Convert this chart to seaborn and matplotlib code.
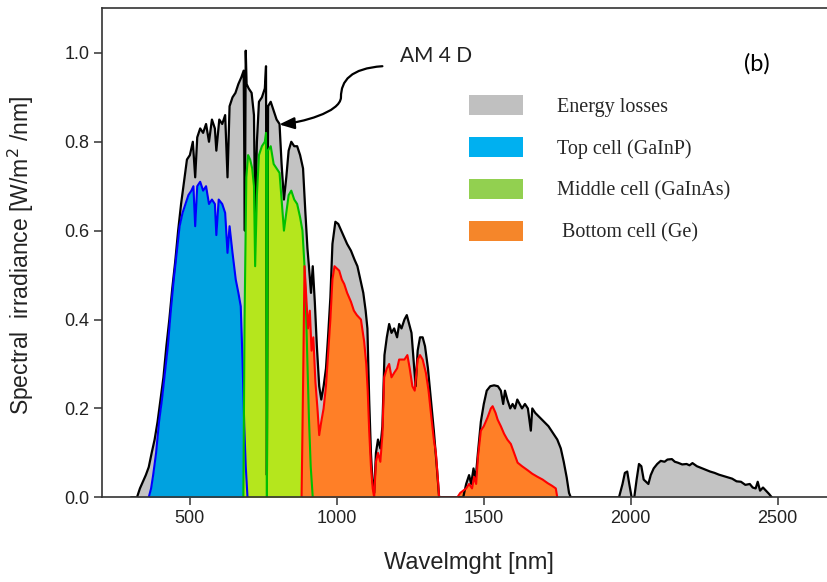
import numpy as np
import pandas as pd
import matplotlib
matplotlib.use("Agg")
import matplotlib.pyplot as plt
import seaborn as sns
from matplotlib.patches import Patch, FancyArrowPatch
from matplotlib.path import Path

# ==========================
# Data
# ==========================
# full spectrum (black outline, grey = energy losses)
wl_total = [300, 320, 330, 340, 350, 360, 370, 380, 390, 400, 410, 420, 430, 440, 450,
            460, 470, 480, 490, 500, 510, 518, 525, 535, 545, 555, 565, 575, 585, 590,
            600, 610, 620, 628, 635, 645, 655, 665, 675, 683, 687, 690, 693, 700, 710,
            718, 722, 728, 735, 745, 755, 759, 762, 766, 775, 785, 795, 805, 812, 820,
            828, 836, 845, 855, 865, 875, 885, 893, 900, 905, 912, 918, 925, 932, 940,
            947, 955, 963, 970, 978, 985, 995, 1005, 1015, 1025, 1035, 1048, 1060, 1070, 1080,
            1090, 1098, 1104, 1110, 1116, 1121, 1127, 1133, 1140, 1148, 1155, 1162, 1170, 1178, 1186,
            1195, 1205, 1212, 1220, 1230, 1238, 1246, 1254, 1262, 1268, 1275, 1283, 1292, 1300, 1310,
            1320, 1330, 1340, 1348, 1430, 1440, 1450, 1457, 1465, 1472, 1480, 1490, 1500, 1510, 1522,
            1535, 1548, 1558, 1566, 1572, 1580, 1590, 1598, 1606, 1614, 1622, 1630, 1640, 1650, 1660,
            1665, 1675, 1690, 1705, 1720, 1735, 1750, 1762, 1772, 1782, 1790, 1796, 1960, 1972, 1980,
            1988, 1995, 2003, 2012, 2020, 2028, 2036, 2044, 2052, 2060, 2068, 2078, 2090, 2102, 2115,
            2125, 2140, 2150, 2160, 2175, 2190, 2200, 2210, 2225, 2240, 2255, 2270, 2285, 2300, 2315,
            2330, 2345, 2360, 2375, 2390, 2405, 2415, 2425, 2432, 2440, 2450, 2460, 2470, 2480]
irr_total = [0.0, 0.0, 0.02, 0.035, 0.05, 0.068, 0.10, 0.13, 0.17, 0.22, 0.27, 0.34, 0.40, 0.47, 0.53,
             0.60, 0.66, 0.71, 0.76, 0.77, 0.80, 0.72, 0.81, 0.83, 0.82, 0.84, 0.80, 0.85, 0.83, 0.78,
             0.85, 0.84, 0.86, 0.72, 0.88, 0.90, 0.91, 0.93, 0.945, 0.96, 0.60, 1.005, 0.93, 0.92, 0.91,
             0.86, 0.63, 0.80, 0.89, 0.90, 0.92, 0.97, 0.05, 0.88, 0.89, 0.87, 0.85, 0.84, 0.75, 0.67,
             0.72, 0.78, 0.80, 0.79, 0.79, 0.77, 0.74, 0.64, 0.56, 0.52, 0.46, 0.52, 0.44, 0.34, 0.25,
             0.22, 0.25, 0.29, 0.36, 0.45, 0.57, 0.62, 0.615, 0.60, 0.585, 0.57, 0.555, 0.535, 0.52, 0.49,
             0.46, 0.42, 0.38, 0.22, 0.10, 0.04, 0.01, 0.10, 0.13, 0.11, 0.16, 0.32, 0.36, 0.39, 0.37,
             0.38, 0.36, 0.39, 0.38, 0.40, 0.41, 0.39, 0.37, 0.30, 0.25, 0.33, 0.36, 0.36, 0.34, 0.29,
             0.22, 0.15, 0.07, 0.0, 0.0, 0.03, 0.05, 0.03, 0.065, 0.04, 0.10, 0.17, 0.21, 0.24, 0.25,
             0.252, 0.25, 0.24, 0.21, 0.24, 0.22, 0.20, 0.21, 0.20, 0.22, 0.21, 0.20, 0.21, 0.20, 0.15,
             0.20, 0.19, 0.18, 0.17, 0.16, 0.145, 0.13, 0.11, 0.08, 0.045, 0.01, 0.0, 0.0, 0.03, 0.055,
             0.058, 0.03, 0.0, 0.0, 0.04, 0.075, 0.07, 0.04, 0.035, 0.03, 0.05, 0.065, 0.075, 0.082, 0.08,
             0.085, 0.086, 0.08, 0.078, 0.074, 0.075, 0.072, 0.077, 0.07, 0.066, 0.062, 0.058, 0.055, 0.051, 0.048,
             0.045, 0.042, 0.036, 0.035, 0.028, 0.03, 0.022, 0.02, 0.035, 0.015, 0.022, 0.015, 0.008, 0.0]

# top cell (GaInP)
wl_top = [360, 368, 375, 385, 395, 405, 415, 425, 435, 445, 455, 465, 475, 485, 495,
          505, 512, 518, 525, 535, 545, 555, 565, 575, 585, 590, 598, 610, 620, 628,
          635, 645, 656, 665, 673, 679, 685, 690, 696]
irr_top = [0.0, 0.02, 0.05, 0.10, 0.17, 0.22, 0.28, 0.34, 0.42, 0.49, 0.55, 0.61, 0.64, 0.66, 0.68,
           0.69, 0.70, 0.61, 0.70, 0.71, 0.69, 0.70, 0.66, 0.67, 0.66, 0.59, 0.67, 0.66, 0.64, 0.55,
           0.61, 0.55, 0.49, 0.46, 0.43, 0.31, 0.16, 0.07, 0.0]

# middle cell (GaInAs)
wl_mid = [682, 686, 692, 698, 705, 712, 718, 722, 728, 735, 745, 755, 759, 762, 765,
          775, 785, 795, 805, 812, 820, 828, 836, 845, 855, 865, 875, 883, 890, 894,
          900, 905, 911, 918]
irr_mid = [0.0, 0.40, 0.72, 0.77, 0.76, 0.74, 0.70, 0.52, 0.68, 0.77, 0.79, 0.80, 0.82, 0.0, 0.78,
           0.79, 0.75, 0.74, 0.73, 0.67, 0.60, 0.64, 0.68, 0.69, 0.67, 0.66, 0.63, 0.60, 0.52, 0.45,
           0.30, 0.18, 0.07, 0.0]

# bottom cell (Ge)
wl_bot = [880, 886, 890, 896, 902, 908, 914, 920, 927, 934, 940, 947, 955, 963, 970,
          978, 985, 992, 1000, 1008, 1017, 1025, 1035, 1048, 1058, 1068, 1082, 1093, 1100, 1105,
          1110, 1116, 1122, 1127, 1133, 1140, 1148, 1155, 1161, 1170, 1178, 1186, 1195, 1205, 1212,
          1220, 1230, 1240, 1248, 1257, 1265, 1275, 1283, 1292, 1303, 1312, 1320, 1330, 1337, 1345,
          1348, 1410, 1420, 1440, 1450, 1460, 1467, 1474, 1480, 1490, 1500, 1513, 1524, 1530, 1540,
          1547, 1558, 1569, 1580, 1592, 1603, 1615, 1630, 1649, 1665, 1683, 1700, 1717, 1732, 1745,
          1750]
irr_bot = [0.0, 0.30, 0.52, 0.45, 0.38, 0.42, 0.33, 0.36, 0.26, 0.20, 0.14, 0.17, 0.20, 0.25, 0.32,
           0.40, 0.49, 0.52, 0.515, 0.51, 0.49, 0.48, 0.46, 0.44, 0.42, 0.41, 0.40, 0.35, 0.30, 0.24,
           0.15, 0.07, 0.02, 0.0, 0.08, 0.10, 0.08, 0.14, 0.27, 0.29, 0.30, 0.27, 0.28, 0.29, 0.31,
           0.31, 0.31, 0.32, 0.29, 0.25, 0.24, 0.31, 0.32, 0.31, 0.28, 0.24, 0.19, 0.13, 0.10, 0.03,
           0.0, 0.0, 0.01, 0.02, 0.03, 0.02, 0.046, 0.03, 0.09, 0.15, 0.16, 0.18, 0.20, 0.205, 0.19,
           0.175, 0.16, 0.143, 0.13, 0.12, 0.10, 0.078, 0.07, 0.061, 0.053, 0.046, 0.04, 0.032, 0.026, 0.02,
           0.0]

legend_labels = ["Energy losses", "Top cell (GaInP)", "Middle cell (GaInAs)", " Bottom cell (Ge)"]
legend_colors = ["#C0C0C0", "#00B0F0", "#92D050", "#F5862A"]

df_total = pd.DataFrame({"wl": wl_total, "irr": irr_total})
df_top = pd.DataFrame({"wl": wl_top, "irr": irr_top})
df_mid = pd.DataFrame({"wl": wl_mid, "irr": irr_mid})
df_bot = pd.DataFrame({"wl": wl_bot, "irr": irr_bot})

# ==========================
# Plot
# ==========================
sns.set_style("ticks")
plt.rcParams["font.family"] = ["Liberation Sans", "DejaVu Sans"]

fig = plt.figure(figsize=(8.27, 5.82), dpi=100)
ax = fig.add_axes([0.123, 0.1455, 0.924, 0.840])

# filled areas
ax.fill_between(df_total["wl"], df_total["irr"], color="#C3C3C3", lw=0)
ax.fill_between(df_top["wl"], df_top["irr"], color="#00A2E0", lw=0)
ax.fill_between(df_mid["wl"], df_mid["irr"], color="#B5E61D", lw=0)
ax.fill_between(df_bot["wl"], df_bot["irr"], color="#FF7F27", lw=0)

# outlines
sns.lineplot(data=df_total, x="wl", y="irr", color="black", lw=1.6, ax=ax)
sns.lineplot(data=df_top, x="wl", y="irr", color="#0000FF", lw=1.5, ax=ax)
sns.lineplot(data=df_mid, x="wl", y="irr", color="#00C000", lw=1.5, ax=ax)
sns.lineplot(data=df_bot, x="wl", y="irr", color="#FF0000", lw=1.5, ax=ax)

ax.set_xlim(200, 2800)
ax.set_ylim(0, 1.1)
ax.set_xticks([500, 1000, 1500, 2000, 2500])
ax.set_yticks([0.0, 0.2, 0.4, 0.6, 0.8, 1.0])
ax.yaxis.set_major_formatter(matplotlib.ticker.FormatStrFormatter("%.1f"))
ax.tick_params(axis="both", direction="out", length=6, width=1.1, color="#333333",
               labelsize=13, labelcolor="#222222", pad=3)

for side in ["top", "bottom", "left"]:
    ax.spines[side].set_visible(True)
    ax.spines[side].set_color("#333333")
    ax.spines[side].set_linewidth(1.2)
ax.spines["right"].set_visible(False)

ax.set_xlabel("Wavelmght [nm]", fontsize=17, color="#222222")
ax.set_ylabel("Spectral  irradiance [W/m$^2$ /nm]", fontsize=16.5, color="#222222")
ax.xaxis.set_label_coords(0.481, -0.112)
ax.yaxis.set_label_coords(-0.086, 0.495)

# annotation
ax.text(1214, 0.992, "AM 4 D", fontsize=15, family="Lato", ha="left", va="center", color="#222222")
ax.text(2384, 0.976, "(b)", fontsize=17, family="Lato", ha="left", va="center", color="black")

arrow_path = Path([(1155, 0.970), (1048, 0.965), (1014, 0.938), (1014, 0.900),
                   (1012, 0.866), (878, 0.843), (804, 0.839)],
                  [Path.MOVETO, Path.CURVE4, Path.CURVE4, Path.CURVE4,
                   Path.CURVE4, Path.CURVE4, Path.CURVE4])
arrow = FancyArrowPatch(path=arrow_path, arrowstyle="-|>,head_length=0.9,head_width=0.35",
                        mutation_scale=10, color="black", lw=1.6)
ax.add_patch(arrow)

# legend
handles = [Patch(facecolor=c, edgecolor="none") for c in legend_colors]
ax.legend(handles, legend_labels, loc="upper left",
          bbox_to_anchor=(469 / 827, 1 - 95 / 582), bbox_transform=fig.transFigure,
          frameon=False, borderpad=0, borderaxespad=0,
          handlelength=2.7, handleheight=1.15, handletextpad=1.65, labelspacing=1.0,
          prop={"family": "Liberation Serif", "size": 14.5})

fig.savefig("out.png", dpi=100)
plt.close()
